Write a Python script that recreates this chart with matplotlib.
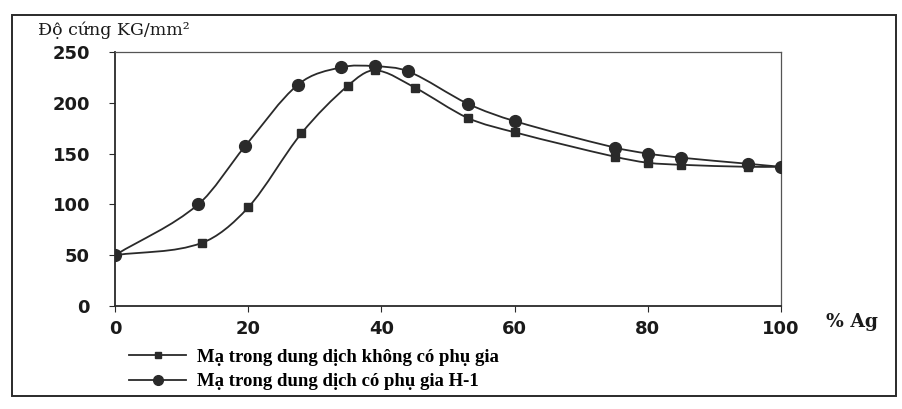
import numpy as np
import matplotlib
matplotlib.use("Agg")
import matplotlib.pyplot as plt
from matplotlib.path import Path
from matplotlib.patches import PathPatch, Rectangle
from matplotlib.lines import Line2D

# ---- data ----
x_plain = [0, 13, 20, 28, 35, 39, 45, 53, 60, 75, 80, 85, 95, 100]
y_plain = [50, 62, 97, 170, 217, 232, 215, 185, 171, 147, 141, 139, 137, 137]
x_h1 = [0, 12.5, 19.5, 27.5, 34, 39, 44, 53, 60, 75, 80, 85, 95, 100]
y_h1 = [50, 100, 157, 218, 235, 236, 231, 199, 182, 156, 150, 146, 140, 137]
labels = ["Mạ trong dung dịch không có phụ gia", "Mạ trong dung dịch có phụ gia H-1"]
xticks = [0, 20, 40, 60, 80, 100]
yticks = [0, 50, 100, 150, 200, 250]

W, H = 902, 409
fig = plt.figure(figsize=(W / 100, H / 100), dpi=100)
ax = fig.add_axes([115 / W, 1 - 306 / H, (781 - 115) / W, (306 - 52) / H])

col = "#2a2a2a"


def smooth_path(xs, ys):
    # cubic bezier through the points with slope-based tangents
    pts = np.column_stack([xs, ys]).astype(float)
    n = len(pts)
    tang = np.zeros_like(pts)
    for i in range(n):
        p0 = pts[i - 1] if i > 0 else pts[i]
        p2 = pts[i + 1] if i < n - 1 else pts[i]
        tang[i] = (p2 - p0) / max(p2[0] - p0[0], 1e-9)
    verts = [pts[0]]
    codes = [Path.MOVETO]
    for i in range(n - 1):
        p1, p2 = pts[i], pts[i + 1]
        h = (p2[0] - p1[0]) / 3.0
        c1 = p1 + tang[i] * h
        c2 = p2 - tang[i + 1] * h
        verts += [c1, c2, p2]
        codes += [Path.CURVE4] * 3
    return Path(verts, codes)


for xs, ys, mk, ms in [(x_plain, y_plain, "s", 6), (x_h1, y_h1, "o", 8.5)]:
    p = smooth_path(xs, ys)
    ax.add_patch(PathPatch(p, facecolor="none", edgecolor=col, lw=1.3, zorder=2))
    ax.plot(xs, ys, linestyle="none", marker=mk, ms=ms, color=col, zorder=3)

ax.set_xlim(0, 100)
ax.set_ylim(0, 250)
ax.set_xticks(xticks)
ax.set_yticks(yticks)
ax.set_xticklabels([str(v) for v in xticks], fontsize=13, fontweight="bold", color="#1a1a1a")
ax.set_yticklabels([str(v) for v in yticks], fontsize=13, fontweight="bold", color="#1a1a1a")
ax.tick_params(axis="both", length=4, width=0.8, color=col)
ax.tick_params(axis="x", pad=6)
ax.tick_params(axis="y", pad=14)
for s in ["left", "bottom"]:
    ax.spines[s].set_color(col)
    ax.spines[s].set_linewidth(1.3)
for s in ["top", "right"]:
    ax.spines[s].set_color("#555555")
    ax.spines[s].set_linewidth(0.9)

fig.text(38 / W, 1 - 30 / H, "Độ cứng KG/mm²", family="DejaVu Serif", fontsize=12.5,
         color="#1a1a1a", va="center", ha="left")
fig.text(826 / W, 1 - 322 / H, "% Ag", family="DejaVu Serif", fontsize=13.5,
         fontweight="bold", color="#1a1a1a", va="center", ha="left")

handles = [
    Line2D([], [], color=col, lw=1.3, marker="s", ms=5),
    Line2D([], [], color=col, lw=1.3, marker="o", ms=7),
]
leg = fig.legend(handles, labels, loc="upper left", bbox_to_anchor=(120 / W, 1 - 339 / H),
                 frameon=False, prop={"family": "Liberation Serif", "weight": "bold", "size": 13.5},
                 handlelength=3.0, handletextpad=0.6, labelspacing=0.4, borderpad=0)

fig.patches.append(Rectangle((12 / W, 1 - 396 / H), (896 - 12) / W, (396 - 15) / H,
                             transform=fig.transFigure, fill=False, edgecolor=col, lw=1.4))

fig.savefig("out.png", dpi=100)
